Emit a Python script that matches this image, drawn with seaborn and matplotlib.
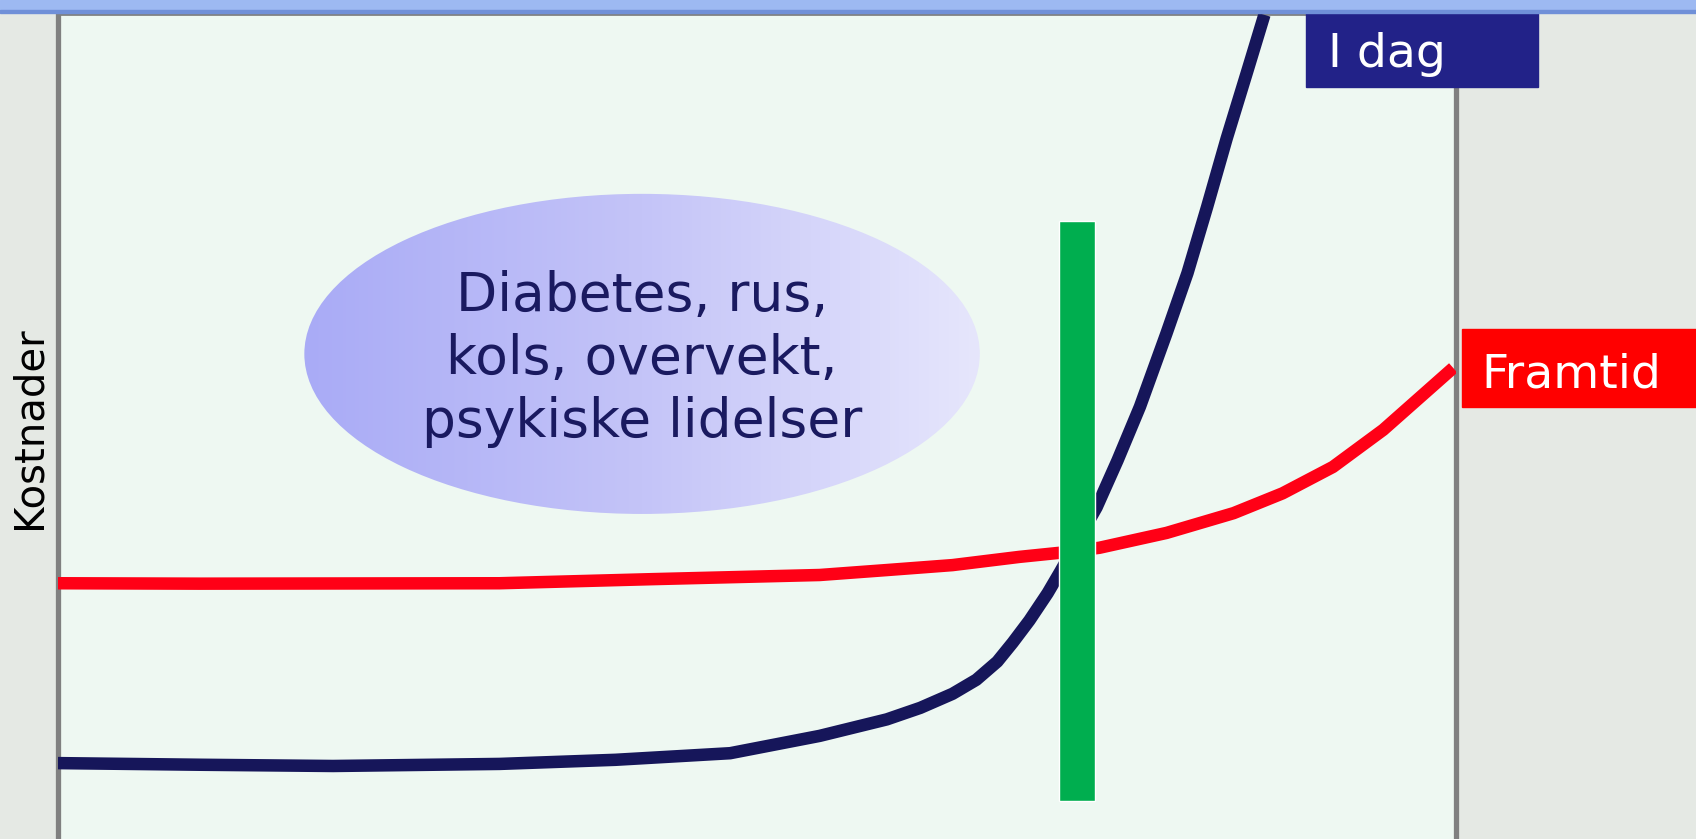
"""Cost curves today vs. future, with the chronic disease bubble."""

import matplotlib.pyplot as plt
import numpy as np
import pandas as pd
import seaborn as sns
from matplotlib.colors import LinearSegmentedColormap
from matplotlib.patches import Ellipse, Rectangle


# values (x: time 0-100, y: cost 0-100)
IDAG_X = [0, 10.2, 19.7, 31.6, 39.9, 48.1, 54.5, 56.9, 59.3, 61.7, 64.0,
          65.7, 67.2, 68.3, 69.5, 70.8, 71.7, 74.3, 75.8, 77.4, 79.3,
          80.8, 82.2, 83.6, 85.1, 86.3]
IDAG_Y = [9.2, 9.0, 8.85, 9.1, 9.6, 10.4, 12.5, 13.5, 14.5, 15.9, 17.6,
          19.3, 21.5, 23.8, 26.5, 29.8, 32.4, 40.2, 45.9, 52.4, 61.3,
          68.6, 76.6, 84.9, 93.2, 99.9]

FRAMTID_X = [0, 10.2, 31.6, 42.6, 54.5, 59.3, 64.0, 68.8, 71.7, 74.5,
             79.3, 84.1, 87.6, 91.2, 94.8, 97.2, 99.8]
FRAMTID_Y = [31.0, 30.95, 31.0, 31.5, 32.0, 32.6, 33.2, 34.2, 34.7, 35.3,
             37.1, 39.5, 41.9, 45.1, 49.6, 53.2, 57.1]

SERIES = ["I dag", "Framtid"]
COLORS = {"I dag": "#16165a", "Framtid": "#ff0016"}

# green "now" marker
MARKER_X = 72.9
MARKER_LOW = 4.6
MARKER_HIGH = 74.9

BUBBLE_TEXT = "Diabetes, rus,\nkols, overvekt,\npsykiske lidelser"
BUBBLE_CENTER = (41.8, 58.8)
BUBBLE_SIZE = (48.3, 38.8)

Y_LABEL = "Kostnader"

W, H = 1696, 839


def main():
    curves = pd.concat([
        pd.DataFrame({"tid": IDAG_X, "kostnad": IDAG_Y, "serie": SERIES[0]}),
        pd.DataFrame({"tid": FRAMTID_X, "kostnad": FRAMTID_Y, "serie": SERIES[1]}),
    ], ignore_index=True)

    sns.set_theme(style="white")
    plt.rcParams["font.family"] = ["DejaVu Sans"]

    fig = plt.figure(figsize=(W / 100, H / 100), dpi=100)
    fig.patch.set_facecolor("#e5e9e4")

    left, right, top = 57.5, 1456, 14
    ax = fig.add_axes([left / W, 0, (right - left) / W, (H - top) / H])
    ax.set_facecolor("#eef8f2")

    # gradient bubble
    cx, cy = BUBBLE_CENTER
    bw, bh = BUBBLE_SIZE
    bubble = Ellipse((cx, cy), bw, bh, facecolor="none", edgecolor="none")
    ax.add_patch(bubble)
    grad_cmap = LinearSegmentedColormap.from_list("bubble", ["#a9abf6", "#c4c4f8", "#e6e6fc"])
    img = ax.imshow(np.linspace(0, 1, 256)[None, :], cmap=grad_cmap, aspect="auto",
                    extent=[cx - bw / 2, cx + bw / 2, cy - bh / 2, cy + bh / 2],
                    zorder=1)
    img.set_clip_path(bubble)
    ax.text(cx, cy - 0.6, BUBBLE_TEXT, ha="center", va="center", fontsize=38.5,
            color="#1a1a60", linespacing=1.27, zorder=2)

    sns.lineplot(data=curves, x="tid", y="kostnad", hue="serie", palette=COLORS,
                 sort=False, estimator=None, linewidth=9, legend=False, ax=ax,
                 zorder=3)
    for line in ax.get_lines():
        line.set_solid_capstyle("butt")
        line.set_solid_joinstyle("round")

    ax.bar(MARKER_X, MARKER_HIGH - MARKER_LOW, bottom=MARKER_LOW, width=2.6,
           color="#00ae4f", zorder=4)

    ax.set_xlim(0, 100)
    ax.set_ylim(0, 100)
    ax.set_xticks([])
    ax.set_yticks([])
    ax.set_xlabel("")
    ax.set_ylabel("")
    for side in ["left", "right", "top"]:
        ax.spines[side].set_color("#808080")
    ax.spines["left"].set_linewidth(3.8)
    ax.spines["right"].set_linewidth(3.8)
    ax.spines["top"].set_linewidth(2)
    ax.spines["bottom"].set_visible(False)

    # overlay in pixel units for the slide decorations
    over = fig.add_axes([0, 0, 1, 1], zorder=10)
    over.set_xlim(0, W)
    over.set_ylim(H, 0)
    over.axis("off")
    over.patch.set_alpha(0)

    over.add_patch(Rectangle((1306, 10), 232, 77, color="#222288"))
    over.text(1328, 67, SERIES[0], color="white", fontsize=34, va="baseline")
    over.add_patch(Rectangle((1462, 329), 240, 78, color="#ff0000"))
    over.text(1481, 387, SERIES[1], color="white", fontsize=34, va="baseline")

    over.add_patch(Rectangle((0, 0), W, 10, color="#9db9f2"))
    over.add_patch(Rectangle((0, 10), W, 3, color="#7090d8"))

    over.text(30, 428, Y_LABEL, rotation=90, ha="center", va="center",
              fontsize=29, color="black")

    fig.savefig("out.png", dpi=100, facecolor=fig.get_facecolor())
    plt.close(fig)


if __name__ == "__main__":
    main()
